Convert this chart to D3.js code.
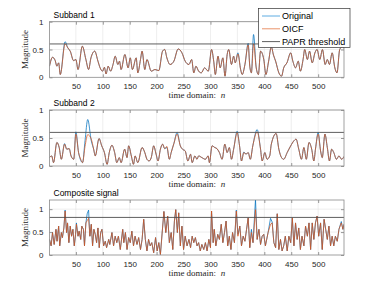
<!DOCTYPE html>
<html lang="en">
<head>
<meta charset="utf-8">
<title>subband papr</title>
<script src="https://cdn.jsdelivr.net/npm/d3@7"></script>
<style>
  body{ margin:0; background:#fff; }
  svg{ display:block; }
  .tick text{ font-family:"Liberation Sans",Arial,sans-serif; font-size:8px; fill:#262626; }
  .ttl{ font-family:"Liberation Sans",Arial,sans-serif; font-size:8.5px; fill:#000; }
  .lab{ font-family:"Liberation Serif","Times New Roman",serif; font-size:9px; fill:#262626; }
  .leg{ font-family:"Liberation Sans",Arial,sans-serif; font-size:9px; fill:#000; }
</style>
</head>
<body>
<div id="chart"></div>
<script>
// ---- data (sample index n, magnitude) ----
var xTicks = [50,100,150,200,250,300,350,400,450,500]
var titles = ["Subband 1","Subband 2","Composite signal"]
var thresholds = [0.6, 0.6, 0.82]
var yMax = [1, 1, 1.2]
var yTicks = [[0,0.5,1],[0,0.5,1],[0,0.5,1]]
var legendNames = ["Original","OICF","PAPR threshold"]

var n1 = [1,6.6,11.6,14.7,18,21,30,35,39.5,45.7,50,54,62,68.6,73.6,78,85,91,95,99.6,103,106,110,114.5,119,123,128,131,134,141,147,151,155,162,165,170,173,178,182,190,197,204,211,215,219,225,232,240,247,253,260,265,269,273,278,283,289,296,302,306,309,314,318,323,327,331,334,339,343,346,351,356,359,364,370,373,376,380,385,389,393,399,403,408,413,417,421,427,432,436,442,449,453,458,463,467,472,475,480,484,489,494,498,503,508,513,517,521,526,531,535,540,545,548]
var oicf1 = [0.20,0.36,0.30,0.20,0.26,0.05,0.60,0.53,0.47,0.30,0.32,0.14,0.56,0.32,0.14,0.35,0.47,0.29,0.17,0.11,0.18,0.06,0.20,0.11,0.23,0.38,0.23,0.29,0.14,0.41,0.17,0.35,0.14,0.35,0.08,0.32,0.47,0.14,0.32,0.11,0.14,0.12,0.47,0.50,0.35,0.23,0.29,0.51,0.44,0.29,0.23,0.32,0.08,0.20,0.11,0.08,0.17,0.11,0.50,0.29,0.05,0.38,0.17,0.35,0.02,0.41,0.50,0.23,0.38,0.26,0.42,0.14,0.05,0.23,0.58,0.20,0.08,0.60,0.17,0.05,0.47,0.32,0.05,0.29,0.55,0.40,0.29,0.08,0.02,0.17,0.26,0.44,0.29,0.17,0.29,0.11,0.32,0.50,0.32,0.47,0.26,0.44,0.50,0.32,0.50,0.23,0.32,0.23,0.44,0.17,0.08,0.50,0.55,0.52]
var orig1 = [0.20,0.36,0.30,0.20,0.26,0.05,0.64,0.53,0.47,0.30,0.32,0.14,0.56,0.32,0.14,0.35,0.47,0.29,0.17,0.11,0.18,0.06,0.20,0.11,0.23,0.38,0.23,0.29,0.14,0.41,0.17,0.35,0.14,0.35,0.08,0.32,0.47,0.14,0.32,0.11,0.14,0.12,0.47,0.50,0.35,0.23,0.29,0.51,0.44,0.29,0.23,0.32,0.08,0.20,0.11,0.08,0.17,0.11,0.50,0.29,0.05,0.38,0.17,0.35,0.02,0.41,0.50,0.23,0.38,0.26,0.44,0.14,0.05,0.23,0.61,0.20,0.08,0.77,0.17,0.05,0.47,0.32,0.05,0.29,0.55,0.40,0.29,0.08,0.02,0.17,0.26,0.44,0.29,0.17,0.29,0.11,0.32,0.50,0.32,0.47,0.26,0.44,0.50,0.32,0.50,0.23,0.32,0.23,0.44,0.17,0.08,0.50,0.55,0.52]

var n2 = [1,5,8.5,14.7,19,23,29,33,37.6,41,46,50,55,59,62.4,67,72,78.6,83,86,93,98,103,108,112,117,122,126,130.6,134,140.6,145,148,153,157,160,165,173,178,182,186,190,194.5,199,202.6,207,211,215,219,223.6,227,232,238,244,248,253,258,263,266,271,275,278,284,290.6,295.6,298,303,308,312,316.6,321.6,326.6,331,335,339,343,349.5,354,357.6,362,366,370,374,378.6,386.7,393,396,401,405,410,413,422,427,432,436,442.5,449,455,459,464,469,473.5,478,483,488,492,495,500,504.5,507.6,512.6,517,521,525,529,534,538.6,543.6,548]
var oicf2 = [0.15,0.18,0.06,0.42,0.33,0.12,0.39,0.30,0.31,0.18,0.12,0.57,0.24,0.12,0.06,0.35,0.56,0.48,0.30,0.18,0.49,0.36,0.24,0.03,0.24,0.37,0.24,0.06,0.15,0.06,0.30,0.15,0.36,0.18,0.03,0.18,0.06,0.33,0.24,0.12,0.09,0.15,0.36,0.21,0.09,0.30,0.39,0.31,0.35,0.12,0.24,0.40,0.57,0.36,0.30,0.27,0.09,0.21,0.06,0.18,0.12,0.18,0.15,0.12,0.18,0.06,0.36,0.33,0.31,0.24,0.12,0.39,0.24,0.33,0.12,0.30,0.59,0.36,0.09,0.24,0.21,0.24,0.12,0.36,0.61,0.30,0.09,0.24,0.12,0.18,0.39,0.58,0.30,0.15,0.12,0.24,0.36,0.45,0.48,0.30,0.12,0.33,0.12,0.42,0.30,0.09,0.30,0.57,0.27,0.15,0.57,0.33,0.09,0.30,0.24,0.12,0.18,0.12,0.17]
var orig2 = [0.15,0.18,0.06,0.42,0.33,0.12,0.40,0.30,0.31,0.18,0.12,0.61,0.24,0.10,0.06,0.45,0.83,0.45,0.30,0.18,0.49,0.36,0.24,0.03,0.24,0.37,0.24,0.06,0.15,0.06,0.30,0.15,0.36,0.18,0.03,0.18,0.06,0.33,0.24,0.12,0.09,0.15,0.36,0.21,0.09,0.30,0.39,0.31,0.33,0.12,0.24,0.40,0.60,0.36,0.30,0.27,0.09,0.21,0.06,0.18,0.12,0.18,0.15,0.12,0.18,0.06,0.36,0.33,0.31,0.24,0.12,0.39,0.24,0.33,0.12,0.30,0.62,0.36,0.09,0.25,0.21,0.24,0.12,0.36,0.65,0.30,0.09,0.24,0.12,0.18,0.39,0.58,0.30,0.15,0.12,0.24,0.36,0.45,0.48,0.30,0.12,0.33,0.12,0.42,0.30,0.09,0.30,0.60,0.27,0.15,0.57,0.33,0.09,0.30,0.24,0.12,0.18,0.12,0.17]

var n3 = [1,4,6.6,9.7,13,15,18,20,23,25,27.7,30,32.7,34.5,37,39.5,42,44.5,47,49.4,51,54,56,59,61,64,66,68.6,71,73.6,76,78.6,81,83.5,86,88.5,91,93.4,96,98.4,101.5,104.6,107,111,113,117,120,123,126,129,132.5,137,139,142,145,148,151,154,157,160,163.5,166.6,170,173,176,179,182,185,188,191,194.5,198,201,204,207,211,213.5,217,220.5,223.6,227,230,233,235.5,238.5,241,244,247,250,253,256.5,260,263,266,269,272,275,278,281,284,287.5,290.6,293.7,297,300,302,305,307,310,313.5,316.6,320,323,326,329,332,335,338,341,344.5,348,351,354.5,357.6,360.7,364,367,370,373,376,379,383.6,386.7,390,393,396,399,402,407,411.5,414.6,417.7,421,424,427,430,433,436,439,442.5,445.6,449,452,455,458,461,464,467,470,473.5,476.6,480,483,486,489,492,495,498,501,504.5,507.6,511,514,517,520,523,526,529,532,535.5,538.6,543,546,548]
var oicf3 = [0.34,0.20,0.49,0.23,0.56,0.30,0.63,0.20,0.49,0.38,0.59,0.96,0.49,0.70,0.27,0.63,0.41,0.56,0.20,0.45,0.67,0.41,0.52,0.34,0.63,0.56,0.20,0.70,0.75,0.80,0.41,0.67,0.20,0.56,0.45,0.27,0.59,0.16,0.49,0.56,0.20,0.30,0.16,0.34,0.23,0.49,0.20,0.41,0.27,0.41,0.12,0.56,0.27,0.49,0.12,0.38,0.27,0.52,0.20,0.41,0.23,0.38,0.12,0.34,0.78,0.34,0.09,0.34,0.20,0.27,0.05,0.38,0.09,0.27,0.01,0.59,0.95,0.49,0.85,0.27,0.49,0.12,0.74,0.99,0.49,0.92,0.20,0.63,0.12,0.41,0.20,0.34,0.16,0.41,0.27,0.38,0.20,0.27,0.09,0.23,0.12,0.27,0.09,0.34,0.16,0.96,0.27,0.56,0.20,0.45,0.34,0.67,0.27,0.49,0.74,0.20,0.41,0.12,0.49,0.27,0.96,0.41,0.63,0.20,0.41,0.30,0.56,0.81,0.16,0.49,0.27,0.99,0.34,0.56,0.23,0.41,0.45,0.20,0.49,0.67,0.70,0.27,0.16,0.90,0.12,0.34,0.09,0.20,0.41,0.09,0.41,0.27,0.81,0.20,0.70,0.34,0.59,0.12,0.41,0.20,0.63,0.41,0.70,0.12,0.70,0.34,0.70,0.85,0.41,0.70,0.12,0.78,0.56,0.34,0.63,0.20,0.41,0.20,0.41,0.30,0.56,0.70,0.56,0.67]
var orig3 = [0.34,0.20,0.49,0.23,0.56,0.30,0.63,0.20,0.49,0.38,0.59,0.98,0.49,0.70,0.27,0.63,0.41,0.56,0.20,0.45,0.70,0.41,0.52,0.34,0.63,0.56,0.20,0.70,0.90,0.98,0.41,0.67,0.20,0.56,0.45,0.27,0.59,0.16,0.49,0.56,0.20,0.30,0.16,0.34,0.23,0.49,0.20,0.41,0.27,0.41,0.12,0.56,0.27,0.49,0.12,0.38,0.27,0.52,0.20,0.41,0.23,0.38,0.12,0.34,0.78,0.34,0.09,0.34,0.20,0.27,0.05,0.38,0.09,0.27,0.01,0.59,0.95,0.49,0.85,0.27,0.49,0.12,0.74,0.99,0.49,0.92,0.20,0.63,0.12,0.41,0.20,0.34,0.16,0.41,0.27,0.38,0.20,0.27,0.09,0.23,0.12,0.27,0.09,0.34,0.16,0.96,0.27,0.56,0.20,0.45,0.34,0.67,0.27,0.49,0.74,0.20,0.41,0.12,0.49,0.27,0.98,0.45,0.63,0.20,0.41,0.30,0.56,0.81,0.16,0.56,0.27,1.21,0.34,0.56,0.23,0.41,0.45,0.20,0.49,0.80,0.72,0.27,0.16,0.90,0.12,0.34,0.09,0.20,0.41,0.09,0.41,0.27,0.81,0.20,0.70,0.34,0.59,0.12,0.41,0.20,0.63,0.41,0.70,0.12,0.70,0.34,0.70,0.85,0.41,0.70,0.12,0.78,0.56,0.34,0.63,0.20,0.41,0.20,0.41,0.30,0.56,0.73,0.56,0.67]

var colors = {orig:"#0072BD", oicf:"#D95319", thr:"#4d4d4d"}

var W = 381, H = 297
var left = 49.5, right = 344
var tops = [21.7, 110, 200]
var bots = [77.3, 166, 255]

var svg = d3.select("#chart").append("svg").attr("width",W).attr("height",H)
var x = d3.scaleLinear().domain([1,548]).range([left,right])

var panels = [
  {n:n1, orig:orig1, oicf:oicf1, curve:d3.curveMonotoneX},
  {n:n2, orig:orig2, oicf:oicf2, curve:d3.curveMonotoneX},
  {n:n3, orig:orig3, oicf:oicf3, curve:d3.curveLinear}
]

panels.forEach(function(p,i){
  var y = d3.scaleLinear().domain([0,yMax[i]]).range([bots[i],tops[i]])
  var g = svg.append("g")

  // grid
  g.selectAll(".gx").data(xTicks).enter().append("line")
    .attr("x1",function(d){return x(d)}).attr("x2",function(d){return x(d)})
    .attr("y1",tops[i]).attr("y2",bots[i])
    .attr("stroke","#e3e3e3").attr("stroke-width",0.6)
  g.selectAll(".gy").data(yTicks[i].filter(function(d){return d>0})).enter().append("line")
    .attr("x1",left).attr("x2",right)
    .attr("y1",function(d){return y(d)}).attr("y2",function(d){return y(d)})
    .attr("stroke","#e3e3e3").attr("stroke-width",0.6)

  var clipId = "clip"+i
  svg.append("clipPath").attr("id",clipId).append("rect")
    .attr("x",left).attr("y",tops[i]).attr("width",right-left).attr("height",bots[i]-tops[i])

  var line = function(vals){
    return d3.line().curve(p.curve)
      .x(function(d,k){return x(p.n[k])})
      .y(function(d){return y(d)})(vals)
  }
  g.append("path").attr("d",line(p.orig)).attr("fill","none")
    .attr("stroke",colors.orig).attr("stroke-width",0.75).attr("clip-path","url(#"+clipId+")")
  g.append("path").attr("d",line(p.oicf)).attr("fill","none")
    .attr("stroke",colors.oicf).attr("stroke-width",0.75).attr("clip-path","url(#"+clipId+")")
  g.append("line").attr("x1",left).attr("x2",right)
    .attr("y1",y(thresholds[i])).attr("y2",y(thresholds[i]))
    .attr("stroke",colors.thr).attr("stroke-width",0.9)

  // axes, ticks point inwards like the original
  var ax = g.append("g").attr("transform","translate(0,"+bots[i]+")")
    .call(d3.axisBottom(x).tickValues(xTicks).tickSize(-3).tickPadding(6))
  var axT = g.append("g").attr("transform","translate(0,"+tops[i]+")")
    .call(d3.axisTop(x).tickValues(xTicks).tickSize(-3).tickFormat(""))
  var ay = g.append("g").attr("transform","translate("+left+",0)")
    .call(d3.axisLeft(y).tickValues(yTicks[i]).tickSize(-3).tickPadding(6).tickFormat(d3.format("~g")))
  var ayR = g.append("g").attr("transform","translate("+right+",0)")
    .call(d3.axisRight(y).tickValues(yTicks[i]).tickSize(-3).tickFormat(""))
  ;[ax,axT,ay,ayR].forEach(function(a){
    a.select(".domain").remove()
    a.selectAll(".tick line").attr("stroke","#555").attr("stroke-width",0.6)
  })

  g.append("rect").attr("x",left).attr("y",tops[i])
    .attr("width",right-left).attr("height",bots[i]-tops[i])
    .attr("fill","none").attr("stroke","#8a8a8a").attr("stroke-width",0.8)

  g.append("text").attr("class","ttl").attr("x",left+4).attr("y",tops[i]-4).text(titles[i])
  g.append("text").attr("class","lab").attr("x",(left+right)/2).attr("y",bots[i]+21)
    .attr("text-anchor","middle")
    .html('time domain:&#160; <tspan font-style="italic">n</tspan>')
  g.append("text").attr("class","lab")
    .attr("transform","translate(28,"+((tops[i]+bots[i])/2)+") rotate(-90)")
    .attr("text-anchor","middle").text("Magnitude")
})

// legend
var lg = svg.append("g")
lg.append("rect").attr("x",258.5).attr("y",8.5).attr("width",91.5).attr("height",39)
  .attr("fill","#fff").attr("stroke","#333").attr("stroke-width",0.7)
var legColors = ["#4DA3DF", "#E8875A", colors.thr]
legendNames.forEach(function(name,k){
  var yy = 16 + k*12.8
  lg.append("line").attr("x1",262).attr("x2",280).attr("y1",yy).attr("y2",yy)
    .attr("stroke",legColors[k]).attr("stroke-width",0.9)
  lg.append("text").attr("class","leg").attr("x",282).attr("y",yy+3.2).text(name)
})
</script>
</body>
</html>
